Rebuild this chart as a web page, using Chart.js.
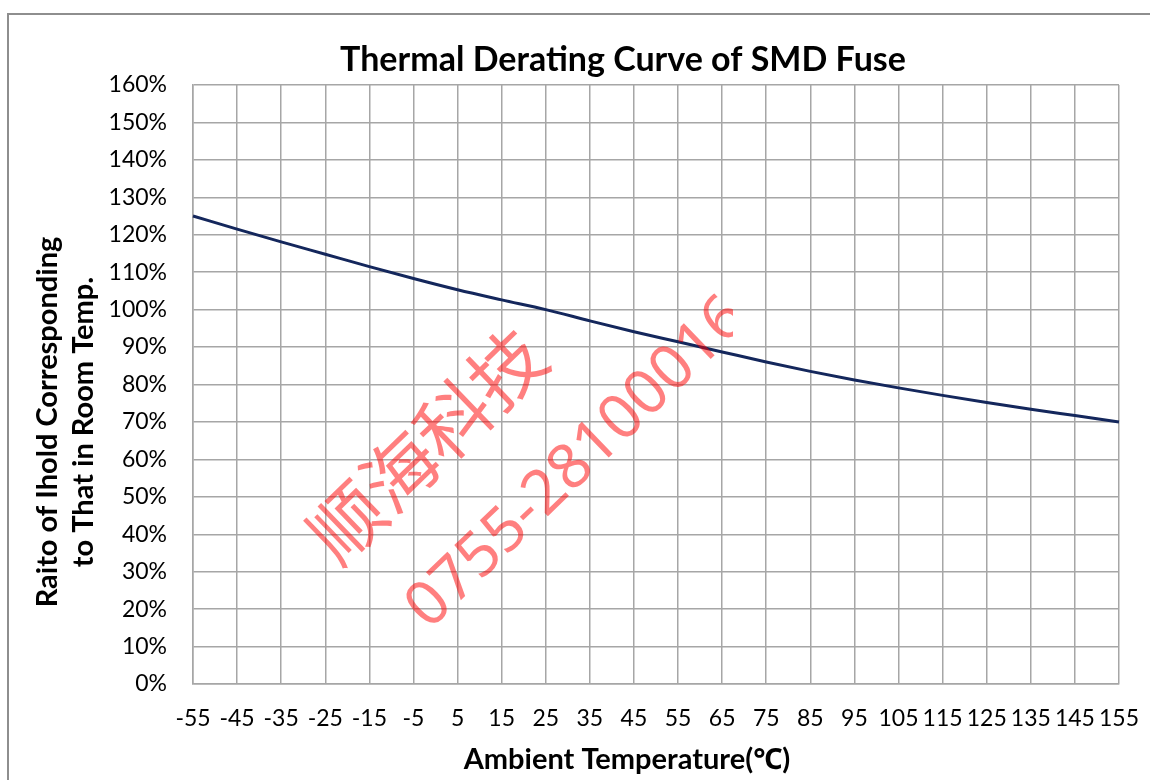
<!DOCTYPE html>
<html>
<head>
<meta charset="utf-8">
<script src="https://cdn.jsdelivr.net/npm/chart.js@4/dist/chart.umd.min.js"></script>
<style>
  html, body { margin: 0; padding: 0; background: #fff; overflow: hidden; }
  #page { position: relative; width: 1150px; height: 780px; overflow: hidden; }
  #frame { position: absolute; left: 7px; top: 13px; width: 1200px; height: 800px; border-left: 2px solid #8e8e8e; border-top: 2px solid #8e8e8e; }
  #wrap { position: absolute; left: 0; top: 0; width: 1246px; height: 780px; }
</style>
</head>
<body>
<div id="page">
<div id="frame"></div>
<div id="wrap"><canvas id="derating"></canvas></div>
</div>
<script>
// ambient temperature (°C) - x tick labels
const temps = [-55, -45, -35, -25, -15, -5, 5, 15, 25, 35, 45, 55, 65, 75, 85, 95, 105, 115, 125, 135, 145, 155];
// ratio of Ihold vs room temp (%)
const ratio = [125, 121.5, 118.1, 114.8, 111.5, 108.3, 105.3, 102.6, 100, 97, 94.1, 91.4, 88.7, 86, 83.5, 81.2, 79.1, 77.1, 75.2, 73.4, 71.7, 70];

const chartTitle = "Thermal Derating Curve of SMD Fuse";
const xTitle = "Ambient Temperature(℃)";
const yTitle = ["Raito of Ihold Corresponding", "to That in Room Temp."];
const stamp = ["顺海科技", "0755-28100016"];

const FONT = "Lato, 'Noto Sans', sans-serif";
Chart.defaults.font.family = FONT;
Chart.defaults.color = "#000";

// titles + red watermark
const extras = {
    id: "extras",
    afterDatasetsDraw(chart) {
        const ctx = chart.ctx;
        ctx.save();
        ctx.beginPath();
        ctx.rect(0, 0, 733, 780);
        ctx.clip();
        ctx.fillStyle = "rgba(255, 0, 0, 0.5)";
        ctx.textAlign = "left";
        ctx.textBaseline = "middle";
        const ang = -44 * Math.PI / 180;
        ctx.font = "74px 'Noto Sans CJK SC'";
        ctx.save();
        ctx.translate(320, 548);
        ctx.rotate(ang);
        ctx.fillText(stamp[0], 0, 0);
        ctx.restore();
        ctx.font = "62px 'Noto Sans', 'Noto Sans CJK SC'";
        ctx.save();
        ctx.translate(417, 618);
        ctx.rotate(ang);
        ctx.fillText(stamp[1], 0, 0);
        ctx.restore();
        ctx.restore();
    },
    afterDraw(chart) {
        const ctx = chart.ctx;
        ctx.save();
        ctx.fillStyle = "#000";
        ctx.textAlign = "center";
        ctx.textBaseline = "middle";
        ctx.font = "bold 34px " + FONT;
        ctx.fillText(chartTitle, 623, 60);
        ctx.font = "bold 29px " + FONT;
        ctx.fillText(xTitle, 627, 760);
        ctx.save();
        ctx.translate(48, 422);
        ctx.rotate(-Math.PI / 2);
        ctx.fillText(yTitle[0], 0, 0);
        ctx.fillText(yTitle[1], 0, 36);
        ctx.restore();
        ctx.restore();
    }
};

const derating = new Chart("derating", {
    type: "line",
    data: {
        labels: temps,
        datasets: [{
            label: "Ratio",
            data: ratio,
            borderColor: "#14275c",
            borderWidth: 3,
            pointRadius: 0,
            cubicInterpolationMode: "monotone",
            fill: false
        }]
    },
    options: {
        responsive: true,
        maintainAspectRatio: false,
        animation: false,
        layout: { padding: { left: 0, right: 127, top: 85, bottom: 0 } },
        plugins: {
            legend: { display: false },
            tooltip: { enabled: false },
            title: { display: false }
        },
        scales: {
            x: {
                type: "category",
                offset: false,
                grid: { color: "#a6a6a6", lineWidth: 1.5, drawTicks: false },
                border: { color: "#a6a6a6", width: 1.5 },
                ticks: { font: { size: 23 }, padding: 21, autoSkip: false, maxRotation: 0 },
                afterFit: (s) => { s.height = 96; }
            },
            y: {
                min: 0,
                max: 160,
                grid: { color: "#a6a6a6", lineWidth: 1.5, drawTicks: false },
                border: { color: "#a6a6a6", width: 1.5 },
                ticks: {
                    stepSize: 10,
                    maxTicksLimit: 20,
                    font: { size: 23 },
                    padding: 26,
                    callback: (v) => v + "%"
                },
                afterFit: (s) => { s.width = 193; }
            }
        }
    },
    plugins: [extras]
});
</script>
</body>
</html>
